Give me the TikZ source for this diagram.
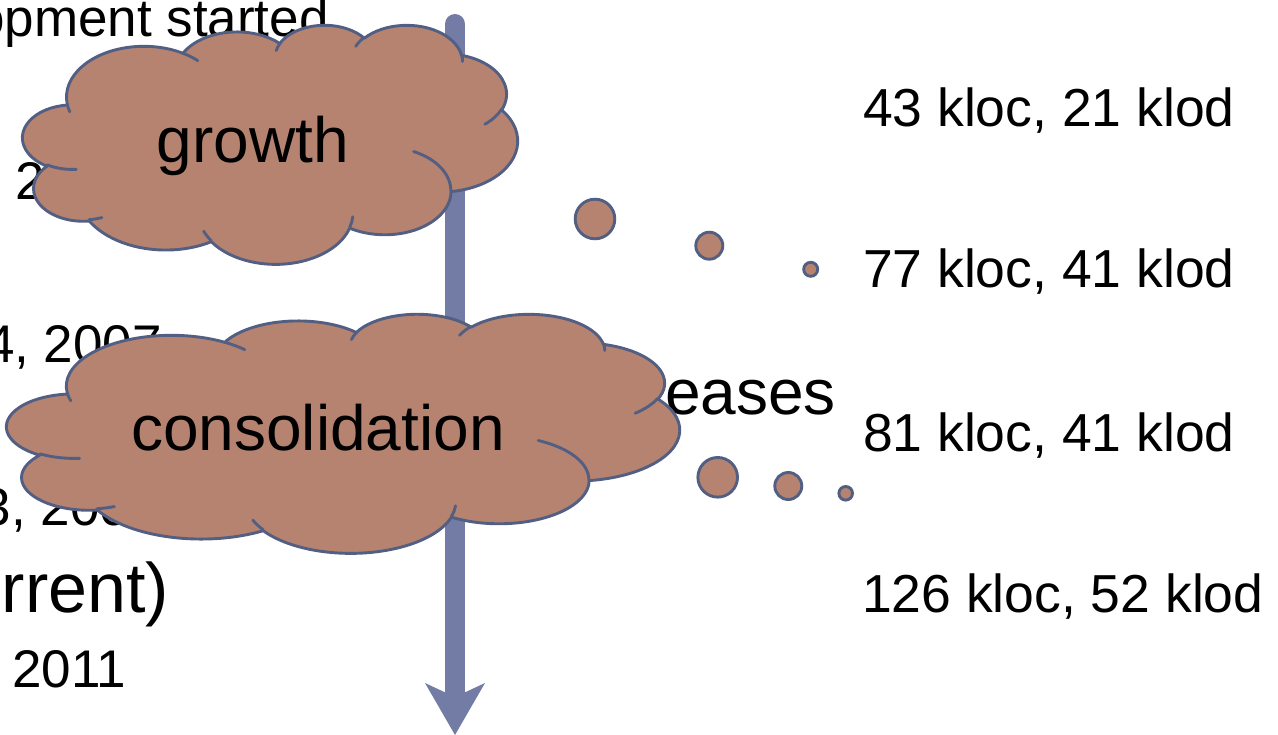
\documentclass[tikz,border=0pt]{standalone}
\usepackage{fontspec}
\setmainfont{Liberation Sans}
\usetikzlibrary{arrows.meta}

\definecolor{cloudfill}{RGB}{182,131,112}
\definecolor{cloudline}{RGB}{82,95,130}
\definecolor{axisblue}{RGB}{114,124,164}

% one elliptic arc of the cloud outline; the angles are visual angles
% (degrees, clockwise on screen), turned into parametric ones here
\newcommand\cloudarc[4]{%
  \pgfmathsetmacro\arcta{atan2((#1)*sin(#3),(#2)*cos(#3))}%
  \pgfmathsetmacro\arctb{atan2((#1)*sin((#3)+(#4)),(#2)*cos((#3)+(#4)))}%
  \pgfmathsetmacro\arctb{\arctb<\arcta ? \arctb+360 : \arctb}%
  \pgfpatharcaxes{\arcta}{\arctb}{\pgfpointxy{#1}{0}}{\pgfpointxy{0}{#2}}}

% cloud outline in a 432 x 432 box: #1,#2 top left, #3 width, #4 height
\newcommand\bigcloud[4]{%
  \pgfmathsetmacro\cloudsx{(#3)/432}%
  \pgfmathsetmacro\cloudsy{(#4)/432}%
  \begin{scope}[shift={(#1,#2)}, x=\cloudsx pt, y=-\cloudsy pt]
    \pgfsetfillcolor{cloudfill}%
    \pgfsetstrokecolor{cloudline}%
    \pgfsetlinewidth{2.9pt}%
    \pgfsetroundjoin\pgfsetroundcap
    \pgfpathmoveto{\pgfpointxy{39.00}{143.70}}%
    \cloudarc{67.53}{91.90}{-190.4875}{123.7805}%
    \cloudarc{53.33}{72.67}{-144.1024}{89.9452}%
    \cloudarc{43.65}{59.45}{-145.8079}{99.7230}%
    \cloudarc{48.57}{65.95}{-130.9861}{117.2417}%
    \cloudarc{53.33}{72.73}{-78.7089}{109.0269}%
    \cloudarc{67.75}{92.20}{-46.2673}{130.2690}%
    \cloudarc{57.85}{78.67}{0.6250}{114.0333}%
    \cloudarc{67.52}{92.15}{22.4516}{115.1726}%
    \cloudarc{77.20}{105.43}{66.2426}{75.2749}%
    \cloudarc{43.60}{59.18}{-274.9421}{146.7356}%
    \cloudarc{43.45}{59.45}{-246.8285}{152.5189}%
    \pgfpathclose
    \pgfusepath{fill,stroke}%
    % the short inner folds of the puffs
    \pgfpathmoveto{\pgfpointxy{46.93}{261.77}}\cloudarc{43.45}{59.45}{86.742}{26.4295}%
    \pgfpathmoveto{\pgfpointxy{69.28}{348.99}}\cloudarc{43.60}{59.18}{73.6157}{11.4349}%
    \pgfpathmoveto{\pgfpointxy{164.78}{390.90}}\cloudarc{67.52}{92.15}{137.6242}{14.0811}%
    \pgfpathmoveto{\pgfpointxy{288.27}{347.51}}\cloudarc{67.52}{92.15}{6.4533}{15.9984}%
    \pgfpathmoveto{\pgfpointxy{341.29}{229.54}}\cloudarc{57.85}{78.67}{-70.2924}{70.9174}%
    \pgfpathmoveto{\pgfpointxy{417.98}{153.54}}\cloudarc{53.33}{72.73}{30.3180}{27.7515}%
    \pgfpathmoveto{\pgfpointxy{383.24}{54.26}}\cloudarc{48.57}{65.95}{-13.7443}{14.8589}%
    \pgfpathmoveto{\pgfpointxy{290.78}{39.52}}\cloudarc{48.57}{65.95}{-149.1815}{18.1954}%
    \pgfpathmoveto{\pgfpointxy{221.41}{47.20}}\cloudarc{43.65}{59.45}{-163.4943}{17.6864}%
    \pgfpathmoveto{\pgfpointxy{140.00}{51.92}}\cloudarc{67.53}{91.90}{-66.7070}{12.3194}%
    \pgfpathmoveto{\pgfpointxy{41.27}{157.89}}\cloudarc{67.53}{91.90}{157.6544}{11.8582}%
    \pgfusepath{stroke}%
  \end{scope}}

\tikzset{
  plain/.style={inner sep=0pt, outer sep=0pt, font=\fontsize{53}{60}\selectfont},
  sizes/.style={inner sep=0pt, outer sep=0pt, anchor=base west, font=\fontsize{53.5}{60}\selectfont},
  heading/.style={inner sep=0pt, outer sep=0pt, font=\fontsize{70}{80}\selectfont},
  cloudtext/.style={inner sep=0pt, outer sep=0pt, anchor=base, font=\fontsize{64}{72}\selectfont},
  bubble/.style={circle, draw=cloudline, fill=cloudfill, line width=2.9pt, inner sep=0pt, outer sep=0pt},
  axis/.style={draw=axisblue, line width=20pt, line cap=round,
    -{Stealth[length=52pt, width=60pt, inset=14pt, line width=0pt]}}
}

\begin{document}
\begin{tikzpicture}[x=1pt, y=-1pt]
  \useasboundingbox (0,0) rectangle (1278,735);
  \clip (0,0) rectangle (1278,735);

  % timeline notes on the left
  \node[plain, anchor=base west] (started) at (-24.8,37) {opment started};
  \node[plain, anchor=base west] (d1) at (16,200) {2};
  \node[plain, anchor=base west] (d2) at (-15,363) {4, 2007};
  \node[plain, anchor=base west] (d3) at (-18,525) {3, 200};
  \node[heading, anchor=base east] (current) at (169,612) {rrent)};
  \node[plain, anchor=base west] (d4) at (12.5,687) {2011};
  \node[inner sep=0pt, outer sep=0pt, anchor=base west, font=\fontsize{64}{72}\selectfont] (releases) at (665,415) {eases};

  % sizes on the right
  \node[sizes] (s1) at (863,127) {43 kloc, 21 klod};
  \node[sizes] (s2) at (863,288) {77 kloc, 41 klod};
  \node[sizes] (s3) at (863,451) {81 kloc, 41 klod};
  \node[sizes] (s4) at (862,612) {126 kloc, 52 klod};

  % time axis
  \coordinate (axtop) at (455,24);
  \coordinate (axbot) at (455,735);
  \draw[axis] (axtop) -- (axbot);

  % the two clouds with their trailing bubbles
  \bigcloud{22.5}{24.5}{495}{239}
  \node[bubble, minimum size=39.6pt] (g1) at (595,219) {};
  \node[bubble, minimum size=27pt] (g2) at (709.3,245.7) {};
  \node[bubble, minimum size=14pt] (g3) at (810.7,269.3) {};
  \node[cloudtext] (growth) at (253,163) {growth};

  \bigcloud{6.5}{313.5}{673}{239}
  \node[bubble, minimum size=39.6pt] (c1) at (717.7,477.3) {};
  \node[bubble, minimum size=27pt] (c2) at (788.3,486) {};
  \node[bubble, minimum size=13.6pt] (c3) at (845.7,493.3) {};
  \node[cloudtext] (consolidation) at (318,450) {consolidation};
\end{tikzpicture}
\end{document}
